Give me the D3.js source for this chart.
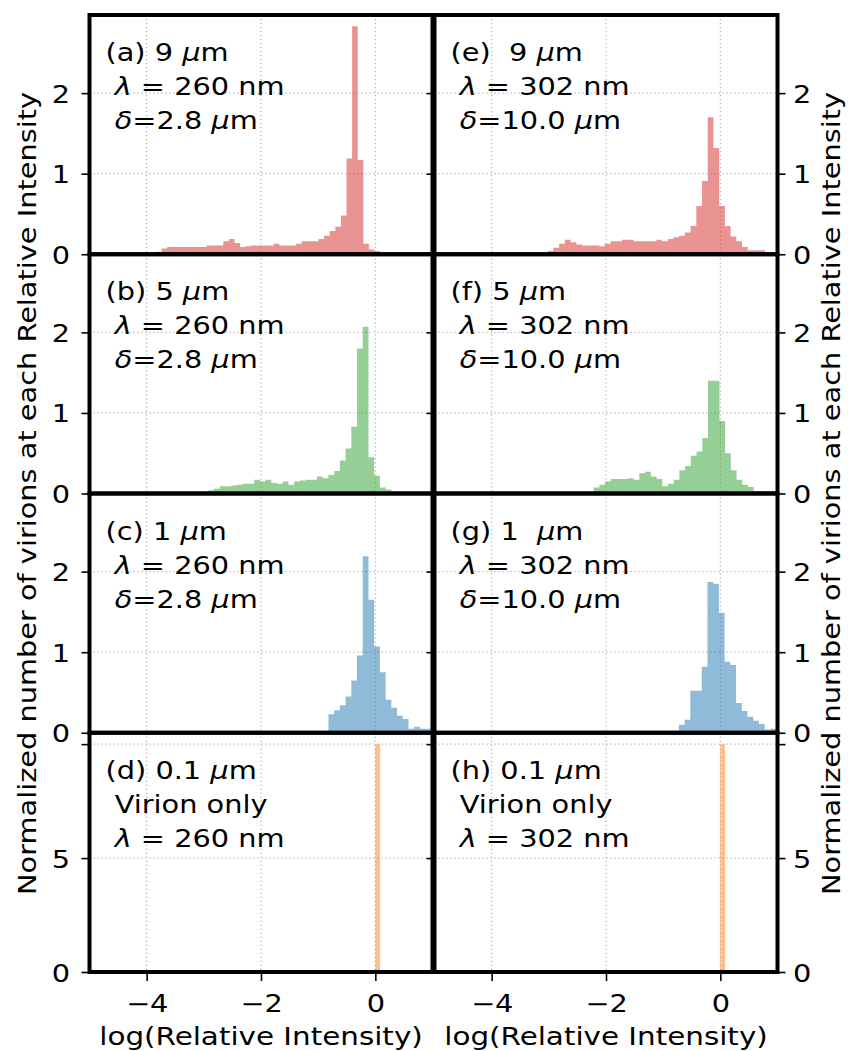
<!DOCTYPE html>
<html lang="en">
<head>
  <meta charset="UTF-8">
  <title>Virion relative intensity histograms</title>
  <script src="https://cdn.jsdelivr.net/npm/d3@7"></script>
  <style>
    body { margin: 0; background: #fff; }
    text { font-family: "DejaVu Sans", sans-serif; fill: #000; white-space: pre; }
  </style>
</head>
<body>
  <svg width="848" height="1051"></svg>
  <script>
    // glyphs in the figure are drawn wider than DejaVu at the same height
    const SX = 1.2;

    const xDomain = [-5, 1];
    const xTicks = [-4, -2, 0];
    const yTicksSmall = [0, 1, 2];
    const yTicksLarge = [0, 5, 10];
    const yTickLabelsLarge = ["0", "5", ""];
    const yMaxSmall = 2.97;
    const yMaxLarge = 10.5;

    // panels in order a, b, c, d (left column) then e, f, g, h (right column)
    const countsA = [0.03, 0.07, 0.09, 0.09, 0.09, 0.09, 0.09, 0.09, 0.09, 0.11,
                     0.11, 0.11, 0.16, 0.19, 0.14, 0.09, 0.10, 0.11, 0.11, 0.11,
                     0.11, 0.13, 0.11, 0.11, 0.11, 0.13, 0.16, 0.16, 0.16, 0.19,
                     0.23, 0.29, 0.34, 0.48, 1.19, 2.83, 1.17, 0.13, 0.06, 0.04];
    const countsB = [0.02, 0.04, 0.06, 0.09, 0.09, 0.10, 0.11, 0.12, 0.12, 0.17,
                     0.15, 0.17, 0.13, 0.12, 0.15, 0.11, 0.15, 0.16, 0.17, 0.17,
                     0.21, 0.19, 0.23, 0.28, 0.41, 0.56, 0.83, 1.80, 2.07, 0.45,
                     0.22, 0.075, 0.05, 0.02, 0.02, 0.02, 0.02, 0.02];
    const countsC = [0.02, 0.02, 0.23, 0.28, 0.34, 0.45, 0.65, 0.96, 2.19, 1.65,
                     1.07, 0.75, 0.41, 0.31, 0.21, 0.17, 0.05, 0.075, 0.05, 0.05];
    const countsD = [10];
    const countsE = [0.04, 0.08, 0.13, 0.18, 0.15, 0.12, 0.11, 0.11, 0.11, 0.10,
                     0.13, 0.16, 0.16, 0.18, 0.18, 0.16, 0.16, 0.16, 0.16, 0.18,
                     0.16, 0.19, 0.21, 0.23, 0.27, 0.35, 0.60, 0.91, 1.70, 1.32,
                     0.60, 0.35, 0.22, 0.16, 0.09, 0.05, 0.05, 0.05];
    const countsF = [0.075, 0.11, 0.15, 0.18, 0.18, 0.18, 0.19, 0.17, 0.25, 0.27,
                     0.21, 0.18, 0.09, 0.12, 0.17, 0.29, 0.34, 0.47, 0.52, 0.69,
                     1.40, 1.40, 0.90, 0.50, 0.29, 0.17, 0.11, 0.08, 0.03, 0.03,
                     0.03, 0.03, 0.03];
    const countsG = [0.10, 0.16, 0.52, 0.52, 0.82, 1.87, 1.85, 1.49, 0.88, 0.84,
                     0.37, 0.27, 0.20, 0.15, 0.11, 0.04, 0.05];
    const countsH = [10];

    const counts = [countsA, countsB, countsC, countsD, countsE, countsF, countsG, countsH];
    const binStart = [-3.836, -3.02, -1.02, 0, -3.02, -2.216, -0.725, 0];
    const binWidth = [0.098, 0.1, 0.1, 0.082, 0.1, 0.1, 0.1, 0.082];
    const rowColors = ["#d62728", "#2ca02c", "#1f77b4", "#ff7f0e"];

    // $...$ marks italic (math) text
    const notes = [
      ["(a) 9 $μ$m", " $λ$ = 260 nm", " $δ$=2.8 $μ$m"],
      ["(b) 5 $μ$m", " $λ$ = 260 nm", " $δ$=2.8 $μ$m"],
      ["(c) 1 $μ$m", " $λ$ = 260 nm", " $δ$=2.8 $μ$m"],
      ["(d) 0.1 $μ$m", " Virion only", " $λ$ = 260 nm"],
      ["(e)  9 $μ$m", " $λ$ = 302 nm", " $δ$=10.0 $μ$m"],
      ["(f) 5 $μ$m", " $λ$ = 302 nm", " $δ$=10.0 $μ$m"],
      ["(g) 1  $μ$m", " $λ$ = 302 nm", " $δ$=10.0 $μ$m"],
      ["(h) 0.1 $μ$m", " Virion only", " $λ$ = 302 nm"]
    ];
    const xLabel = "log(Relative Intensity)";
    const yLabel = "Normalized number of virions at each Relative Intensity";

    const svg = d3.select("svg");
    const colLeft = [89.5, 434.5], colW = 343;
    const topY = 15, rowH = 239.25;

    function addText(sel, str, x, y, size, anchor, rotate) {
      const t = sel.append("text")
        .attr("transform", `translate(${x},${y})` + (rotate ? " rotate(-90)" : "") + ` scale(${SX},1)`)
        .attr("text-anchor", anchor || "start")
        .style("font-size", size + "px");
      str.split("$").forEach((part, k) => {
        if (part) t.append("tspan").style("font-style", k % 2 ? "italic" : "normal").text(part);
      });
      return t;
    }

    counts.forEach((cnt, i) => {
      const col = i < 4 ? 0 : 1, row = i % 4;
      const x0 = colLeft[col], y0 = topY + row * rowH;
      const big = row === 3;

      const x = d3.scaleLinear().domain(xDomain).range([x0, x0 + colW]);
      const y = d3.scaleLinear().domain([0, big ? yMaxLarge : yMaxSmall]).range([y0 + rowH, y0]);
      const yTicks = big ? yTicksLarge : yTicksSmall;

      const g = svg.append("g");
      g.append("clipPath").attr("id", "clip" + i)
        .append("rect").attr("x", x0).attr("y", y0).attr("width", colW).attr("height", rowH);

      // grid
      const grid = g.append("g").attr("stroke", "#b0b0b0").attr("stroke-width", 1.2)
        .attr("stroke-dasharray", "1.2,2.8");
      grid.selectAll(".gx").data(xTicks).join("line")
        .attr("x1", d => x(d)).attr("x2", d => x(d)).attr("y1", y0).attr("y2", y0 + rowH);
      grid.selectAll(".gy").data(yTicks.slice(1)).join("line")
        .attr("x1", x0).attr("x2", x0 + colW).attr("y1", d => y(d)).attr("y2", d => y(d));

      // histogram bars, one path so neighbouring bars do not seam
      const p = d3.path();
      cnt.forEach((v, k) => {
        const a = x(binStart[i] + k * binWidth[i]);
        const b = x(binStart[i] + (k + 1) * binWidth[i]);
        p.rect(a, y(v), b - a, y(0) - y(v));
      });
      g.append("path").attr("d", p.toString())
        .attr("fill", rowColors[row]).attr("fill-opacity", 0.5)
        .attr("clip-path", `url(#clip${i})`);

      // frame
      g.append("rect").attr("x", x0).attr("y", y0).attr("width", colW).attr("height", rowH)
        .attr("fill", "none").attr("stroke", "#000").attr("stroke-width", 4);

      // y axes
      const fmt = big ? (d, k) => yTickLabelsLarge[k] : d3.format("d");
      if (col === 0) {
        const ax = g.append("g").attr("transform", `translate(${x0},0)`)
          .call(d3.axisLeft(y).tickValues(yTicks).tickSize(8).tickFormat(fmt));
        ax.select(".domain").remove();
        ax.selectAll("line").attr("stroke-width", 1.6);
        ax.selectAll("text").attr("x", null).attr("dy", null)
          .attr("transform", `translate(-19.5,9) scale(${SX},1)`).style("font-size", "24px");
      } else {
        const ax = g.append("g").attr("transform", `translate(${x0 + colW},0)`)
          .call(d3.axisRight(y).tickValues(yTicks).tickSize(8).tickFormat(fmt));
        ax.select(".domain").remove();
        ax.selectAll("line").attr("stroke-width", 1.6);
        ax.selectAll("text").attr("x", null).attr("dy", null)
          .attr("transform", `translate(15.5,9) scale(${SX},1)`).style("font-size", "24px");
        const inner = g.append("g").attr("transform", `translate(${x0},0)`)
          .call(d3.axisLeft(y).tickValues(yTicks).tickSize(8).tickFormat(""));
        inner.select(".domain").remove();
        inner.selectAll("line").attr("stroke-width", 1.6);
      }

      // x axis on bottom row
      if (big) {
        const ax = g.append("g").attr("transform", `translate(0,${y0 + rowH})`)
          .call(d3.axisBottom(x).tickValues(xTicks).tickSize(9).tickFormat(d3.format("d")));
        ax.select(".domain").remove();
        ax.selectAll("line").attr("stroke-width", 1.6);
        ax.selectAll("text").attr("y", null).attr("dy", null)
          .attr("transform", `translate(0,40) scale(${SX},1)`).style("font-size", "24px");
        addText(svg, xLabel, x0 + colW / 2, 1045, 24.5, "middle");
      }

      // panel annotation
      notes[i].forEach((line, k) => addText(g, line, x0 + 16, y0 + 46 + k * 34, 24));
    });

    const midY = topY + 2 * rowH;
    addText(svg, yLabel, 36, midY, 24, "middle", true);
    addText(svg, yLabel, 840, midY, 24, "middle", true);
  </script>
</body>
</html>
